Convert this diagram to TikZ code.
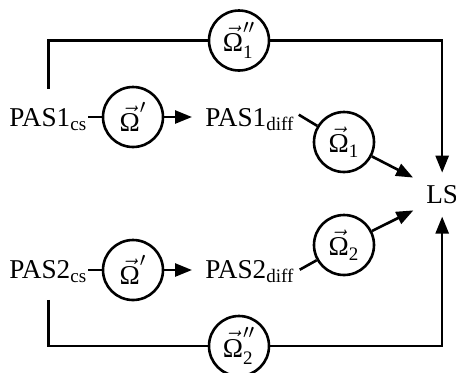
\documentclass[tikz,border=0pt]{standalone}
\usepackage{amsmath}
\usepackage{fontspec}
\setmainfont{Liberation Serif}
\usetikzlibrary{arrows.meta,calc}
% vector Omega set in the text face
\newcommand{\Om}{\vec{\mbox{Ω}}}

\begin{document}
\begin{tikzpicture}[x=0.5pt,y=-0.5pt, line width=1.3pt,
  every node/.style={font=\fontsize{13.6}{16}\selectfont},
  species/.style={inner sep=0pt, anchor=base west},
  rate/.style={circle, draw, minimum size=30pt, inner sep=0pt},
  flow/.style={-{Triangle[length=8.5pt,width=6.5pt]}},
]
\useasboundingbox (0,0) rectangle (456,372);

% species
\node[species] (pas1cs)   at (8,126)   {PAS1$_{\text{cs}}$};
\node[species] (pas1diff) at (204,126) {PAS1$_{\text{diff}}$};
\node[species] (pas2cs)   at (8,278)   {PAS2$_{\text{cs}}$};
\node[species] (pas2diff) at (204,278) {PAS2$_{\text{diff}}$};
\node[species] (ls)       at (425,203) {LS};

% rates
\node[rate] (w1p)  at (133,117)  {$\Om'$};
\node[rate] (w2p)  at (133,270)  {$\Om'$};
\node[rate] (w1)   at (344,142)  {$\Om_{\text{1}}$};
\node[rate] (w2)   at (344,245)  {$\Om_{\text{2}}$};
\node[rate] (w1pp) at (239,40.5) {$\Om''_{\text{1}}$};
\node[rate] (w2pp) at (239,346)  {$\Om''_{\text{2}}$};

\coordinate (d1) at ($(pas1diff.north east)+(3,8)$);
\coordinate (d2) at ($(pas2diff.north east)+(4,11)$);

% upper branch
\draw (pas1cs.east |- w1p) -- (w1p);
\draw[flow, shorten >=6pt] (w1p) -- (pas1diff.west |- w1p);
\draw (d1) -- (w1);
\draw[flow, shorten >=6.7pt] (w1) -- (ls.north west);
\draw[shorten <=9pt] (pas1cs.north) |- (w1pp);
\draw[flow, shorten >=5.5pt] (w1pp) -| (ls.north);

% lower branch
\draw (pas2cs.east |- w2p) -- (w2p);
\draw[flow, shorten >=6pt] (w2p) -- (pas2diff.west |- w2p);
\draw (d2) -- (w2);
\draw[flow, shorten >=6.5pt] (w2) -- (ls.south west);
\draw[shorten <=8pt] (pas2cs.south) |- (w2pp);
\draw[flow, shorten >=6pt] (w2pp) -| (ls.south);
\end{tikzpicture}
\end{document}
